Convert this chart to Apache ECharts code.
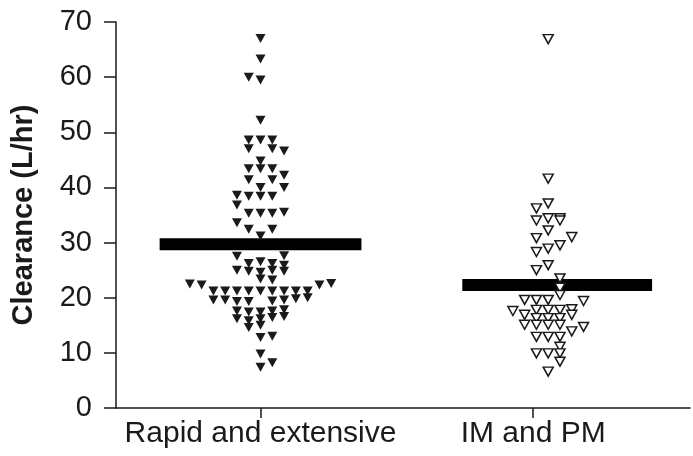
<!DOCTYPE html>
<html>
<head>
<meta charset="utf-8">
<script src="https://cdn.jsdelivr.net/npm/echarts@6.0.0/dist/echarts.min.js"></script>
<style>
  html, body { margin: 0; padding: 0; background: #fff; }
  #main { width: 693px; height: 456px; }
</style>
</head>
<body>
<div id="main"></div>
<script>
// categories and group means (L/hr)
var categories = ['Rapid and extensive', 'IM and PM']
var means = [29.7, 22.3]

// each point: [swarm column, clearance]
var rapidPoints = [
	[0, 67.0], [0, 63.3], [-1, 60.0], [0, 59.5], [0, 52.2],
	[-1, 48.6], [0, 48.6], [1, 48.6],
	[-1, 47.0], [1, 47.0], [2, 46.6],
	[0, 44.8],
	[-1, 43.4], [0, 43.4], [1, 43.4],
	[2, 42.2], [-1, 41.4], [1, 41.4],
	[0, 40.0], [2, 40.0],
	[-2, 38.6], [-1, 38.4], [0, 38.4], [1, 38.4],
	[-2, 36.8],
	[-1, 35.3], [0, 35.3], [1, 35.3], [2, 35.5],
	[-2, 33.6], [-1, 32.4], [1, 32.4], [0, 31.2],
	[-2, 27.5], [2, 27.6],
	[-1, 26.2], [0, 26.5], [1, 26.2], [2, 25.9],
	[-2, 25.0], [-1, 24.8], [0, 24.6], [1, 25.0], [2, 24.8],
	[0, 23.4], [1, 23.2],
	[-6, 22.5], [-5, 22.3], [5, 22.3], [6, 22.6],
	[-4, 21.2], [-3, 21.2], [-2, 21.2], [-1, 21.2], [0, 21.2], [1, 21.2], [2, 21.2], [3, 21.2], [4, 21.2],
	[-4, 19.6], [-3, 19.6], [-2, 19.3], [-1, 19.3], [1, 19.4], [2, 19.6], [3, 19.8], [4, 20.0],
	[-2, 17.6], [-1, 17.4], [0, 17.4], [1, 17.6], [2, 17.8],
	[-2, 16.2], [-1, 15.8], [0, 16.2], [1, 16.4], [2, 16.6],
	[-1, 14.6], [0, 15.0],
	[0, 12.8], [1, 13.0],
	[0, 9.8], [1, 8.2], [0, 7.4]
]

var impmPoints = [
	[0, 66.9], [0, 41.6],
	[0, 37.1], [-1, 36.2],
	[-1, 34.0], [0, 34.4], [1, 34.4], [1, 34.0],
	[0, 32.2],
	[-1, 30.8], [2, 31.0], [1, 29.5],
	[-1, 28.3], [0, 28.9],
	[0, 25.9], [-1, 25.0],
	[1, 23.5], [1, 21.8], [1, 20.5],
	[-2, 19.6], [-1, 19.6], [0, 19.6], [3, 19.4],
	[-3, 17.6], [-1, 17.8], [0, 17.8], [1, 17.8], [2, 17.9],
	[-2, 16.9], [2, 16.9],
	[-1, 16.3], [0, 16.3], [1, 16.3],
	[-2, 15.1], [-1, 15.1], [0, 15.1], [1, 15.1],
	[3, 14.7], [2, 13.9],
	[-1, 12.9], [0, 12.9], [1, 12.9],
	[1, 11.1],
	[-1, 9.9], [0, 9.9], [1, 9.9],
	[1, 8.4], [0, 6.6]
]

// layout in x-axis units (category k sits at x = k + 1)
var colWidth = 0.0432
var swarmCenter = [1.0, 2.055]
var barCenter = [1.0, 2.088]
var barHalf = [0.37, 0.348]

var ink = '#1a1a1a'
var font = 'Liberation Sans, Arial, Helvetica, sans-serif'

function place(points, g){
	return points.map(function(p){ return [swarmCenter[g] + p[0] * colWidth, p[1]] })
}

function meanBar(g){
	return {
		type: 'line',
		silent: true,
		symbol: 'none',
		z: 1,
		lineStyle: { color: '#000', width: 12, cap: 'butt' },
		data: [[barCenter[g] - barHalf[g], means[g]], [barCenter[g] + barHalf[g], means[g]]]
	}
}

var chart = echarts.init(document.getElementById('main'))

chart.setOption({
	animation: false,
	backgroundColor: '#fff',
	grid: { left: 116, right: 3, top: 22, bottom: 48 },
	xAxis: {
		type: 'value',
		min: 0.47,
		max: 2.575,
		splitLine: { show: false },
		axisLine: { show: true, lineStyle: { color: ink, width: 1.5 } },
		axisTick: { show: true, customValues: [1, 2], length: 10, lineStyle: { color: ink, width: 1.5 } },
		axisLabel: {
			customValues: [1, 2],
			margin: 11,
			fontSize: 30,
			fontFamily: font,
			color: ink,
			formatter: function(v){ return categories[Math.round(v) - 1] }
		}
	},
	yAxis: {
		type: 'value',
		min: 0,
		max: 70,
		interval: 10,
		name: 'Clearance (L/hr)',
		nameLocation: 'middle',
		nameGap: 78,
		nameTextStyle: { fontSize: 29, fontWeight: 'bold', fontFamily: font, color: ink },
		splitLine: { show: false },
		axisLine: { show: true, lineStyle: { color: ink, width: 1.5 } },
		axisTick: { show: true, length: 12, lineStyle: { color: ink, width: 1.5 } },
		axisLabel: { margin: 24, fontSize: 29, fontFamily: font, color: ink }
	},
	series: [
		meanBar(0),
		meanBar(1),
		{
			type: 'scatter',
			z: 3,
			symbol: 'triangle',
			symbolRotate: 180,
			symbolSize: [10, 9],
			itemStyle: { color: ink, opacity: 1 },
			data: place(rapidPoints, 0)
		},
		{
			type: 'scatter',
			z: 3,
			symbol: 'triangle',
			symbolRotate: 180,
			symbolSize: [10, 9],
			itemStyle: { color: '#fff', borderColor: ink, borderWidth: 1.5, opacity: 1 },
			data: place(impmPoints, 1)
		}
	]
})
</script>
</body>
</html>
